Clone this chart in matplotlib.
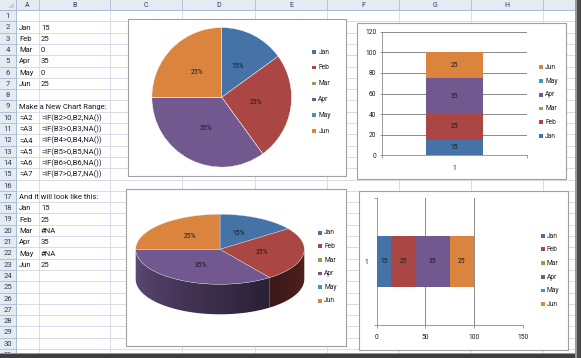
import matplotlib
matplotlib.use('Agg')
import matplotlib.pyplot as plt
import numpy as np
from matplotlib.patches import Rectangle, Polygon

# ---------------- data ----------------
months = ['Jan', 'Feb', 'Mar', 'Apr', 'May', 'Jun']
values = [15, 25, 0, 35, 0, 25]
value_texts = ['15', '25', '0', '35', '0', '25']
result_texts = ['15', '25', '#NA', '35', '#NA', '25']
range_refs = ['=A2', '=A3', '=A4', '=A5', '=A6', '=A7']
range_formulas = ['=IF(B2>0,B2,NA())', '=IF(B3>0,B3,NA())', '=IF(B4>0,B4,NA())',
                  '=IF(B5>0,B5,NA())', '=IF(B6>0,B6,NA())', '=IF(B7>0,B7,NA())']
note_range = 'Make a New Chart Range:'
note_result = 'And it will look like this:'
col_letters = ['A', 'B', 'C', 'D', 'E', 'F', 'G', 'H']
col_ticks = [0, 20, 40, 60, 80, 100, 120]
bar_ticks = [0, 50, 100, 150]
category = ['1']
colors = ['#4572A7', '#AA4643', '#89A54E', '#71588F', '#4198AF', '#DB843D']

# ---------------- layout (pixels) ----------------
W, H = 581, 358
plt.rcParams['font.family'] = ['Roboto', 'DejaVu Sans']
fig = plt.figure(figsize=(W / 100, H / 100), dpi=100)


def frac(x0, y0, x1, y1):
    return [x0 / W, 1 - y1 / H, (x1 - x0) / W, (y1 - y0) / H]


bg = fig.add_axes([0, 0, 1, 1])
bg.set_xlim(0, W)
bg.set_ylim(H, 0)
bg.axis('off')

col_edges = [16, 39, 110, 182, 255, 327, 399, 471, 543, 575]
hdr_h = 10
row_h = 11.3
n_rows = 31
grid_c = '#d0d7e5'
hdr_bg = '#e5ebf3'
hdr_line = '#a9bcd4'
txt_c = '#1a1a1a'
hdr_txt = '#2d3e55'

# headers
bg.add_patch(Rectangle((0, 0), W, hdr_h, facecolor=hdr_bg, edgecolor='none', zorder=1))
bg.add_patch(Rectangle((0, 0), col_edges[0], H, facecolor=hdr_bg, edgecolor='none', zorder=1))
bg.add_patch(Polygon([(13.5, 2.5), (13.5, 8), (8, 8)], closed=True,
                     facecolor='#c2ccda', edgecolor='none', zorder=2))
for x in col_edges:
    bg.plot([x, x], [hdr_h, H], color=grid_c, lw=0.6, zorder=1.5)
    bg.plot([x, x], [0, hdr_h], color=hdr_line, lw=0.6, zorder=1.5)
for i in range(n_rows + 1):
    y = hdr_h + i * row_h
    bg.plot([col_edges[0], W], [y, y], color=grid_c, lw=0.6, zorder=1.5)
    bg.plot([0, col_edges[0]], [y, y], color=hdr_line, lw=0.6, zorder=1.5)
bg.plot([0, W], [hdr_h, hdr_h], color=hdr_line, lw=0.7, zorder=1.6)
bg.plot([col_edges[0], col_edges[0]], [0, H], color=hdr_line, lw=0.7, zorder=1.6)

for i, letter in enumerate(col_letters):
    xc = (col_edges[i] + col_edges[i + 1]) / 2
    bg.text(xc, hdr_h / 2 + 0.5, letter, ha='center', va='center', fontsize=5, color=hdr_txt, zorder=3)
for r in range(1, n_rows + 1):
    yc = hdr_h + (r - 0.5) * row_h
    bg.text(8, yc + 0.4, str(r), ha='center', va='center', fontsize=5.5, color=hdr_txt, zorder=3)


def cell(row, col, text):
    x = 19 if col == 0 else 41
    yc = hdr_h + (row - 0.5) * row_h + 0.6
    bg.text(x, yc, text, ha='left', va='center', fontsize=5.5, color=txt_c, zorder=3)


for i, m in enumerate(months):
    cell(2 + i, 0, m)
    cell(2 + i, 1, value_texts[i])
cell(9, 0, note_range)
for i in range(6):
    cell(10 + i, 0, range_refs[i])
    cell(10 + i, 1, range_formulas[i])
cell(17, 0, note_result)
for i, m in enumerate(months):
    cell(18 + i, 0, m)
    cell(18 + i, 1, result_texts[i])

# screen shadow edges
bg.add_patch(Rectangle((0, 352.5), W, 1.5, facecolor='#9a9a9a', edgecolor='none', zorder=9))
bg.add_patch(Rectangle((0, 354), W, 4, facecolor='#3e3e3e', edgecolor='none', zorder=9))
bg.add_patch(Rectangle((575, 0), 1.5, H, facecolor='#9a9a9a', edgecolor='none', zorder=9))
bg.add_patch(Rectangle((576.5, 0), 4.5, H, facecolor='#4a4a4a', edgecolor='none', zorder=9))

# chart boxes
boxes = [(128, 19, 346, 175.5), (357.3, 22.7, 566, 179.3),
         (126, 189.3, 346, 345.5), (358.5, 190.7, 568, 349.5)]
for x0, y0, x1, y1 in boxes:
    bg.add_patch(Rectangle((x0 + 1, y0 + 1), x1 - x0, y1 - y0, facecolor='#dcdcdc',
                           edgecolor='none', zorder=4))
    bg.add_patch(Rectangle((x0, y0), x1 - x0, y1 - y0, facecolor='white',
                           edgecolor='#a0a0a0', lw=0.8, zorder=5))


def legend(x, y0, dy, labels, cols, size=3.8, fs=4.8):
    for i, (lab, c) in enumerate(zip(labels, cols)):
        y = y0 + i * dy
        bg.add_patch(Rectangle((x, y - size / 2), size, size, facecolor=c, edgecolor='none', zorder=7))
        bg.text(x + size + 2.3, y + 0.3, lab, ha='left', va='center', fontsize=fs, color=txt_c, zorder=7)


def pct(p):
    return f'{p:.0f}%' if p > 0.5 else ''


# ---- chart 1: 2D pie ----
cx, cy, r = 221.7, 97.3, 70.5
ax1 = fig.add_axes(frac(cx - r, cy - r, cx + r, cy + r))
ax1.pie(values, colors=colors, startangle=90, counterclock=False, autopct=pct,
        pctdistance=0.5, radius=1,
        wedgeprops=dict(edgecolor='white', linewidth=0.3),
        textprops=dict(fontsize=4.8, color=txt_c))
ax1.set_xlim(-1.01, 1.01)
ax1.set_ylim(-1.01, 1.01)
ax1.axis('off')
legend(312.3, 51.7, 15.9, months, colors)

# ---- chart 2: stacked column ----
ax2 = fig.add_axes(frac(382.3, 31.7, 526.7, 155.3))
ax2.set_facecolor('none')
bottom = 0
for m, v, c in zip(months, values, colors):
    bars = ax2.bar([1], [v], bottom=bottom, width=0.4, color=c, zorder=3)
    ax2.bar_label(bars, labels=[str(v) if v > 0 else ''], label_type='center',
                  fontsize=4.8, color=txt_c)
    bottom += v
ax2.set_xlim(0.5, 1.5)
ax2.set_ylim(0, 120)
ax2.set_yticks(col_ticks)
ax2.set_yticklabels([str(t) for t in col_ticks], fontsize=4.8, color=txt_c)
ax2.set_xticks([1])
ax2.set_xticklabels(category, fontsize=4.8, color=txt_c)
ax2.set_xticks([0.5, 1.5], minor=True)
ax2.tick_params(axis='x', which='major', length=0, pad=7)
ax2.tick_params(axis='x', which='minor', length=2.2, color='#8a8a8a', width=0.6)
ax2.tick_params(axis='y', length=1.6, color='#8a8a8a', width=0.6, pad=2.6)
for yv in col_ticks[1:]:
    ax2.axhline(yv, color='#8a8a8a', lw=0.7, zorder=1)
for s in ['top', 'right']:
    ax2.spines[s].set_visible(False)
for s in ['left', 'bottom']:
    ax2.spines[s].set_color('#8a8a8a')
    ax2.spines[s].set_linewidth(0.6)
legend(539, 67.3, 13.7, months[::-1], colors[::-1])

# ---- chart 3: 3D pie ----
pcx, pcy, rx, ry, depth = 220, 249.3, 84.3, 35, 30
total = float(sum(values))
angles = np.cumsum([0] + [v / total * 360 for v in values])


def ell(t):
    t = np.radians(t)
    return pcx + rx * np.sin(t), pcy - ry * np.cos(t)


def shade(t):
    t = np.asarray(t, dtype=float)
    return np.where(t >= 144, 0.36 + 0.5 * (t - 144) / 126, 0.36 + 0.12 * (144 - t) / 54)


for i, (a0, a1) in enumerate(zip(angles[:-1], angles[1:])):
    if a1 - a0 <= 0:
        continue
    s0, s1 = max(a0, 90), min(a1, 270)
    if s1 <= s0:
        continue
    ts = np.linspace(s0, s1, 120)
    xs, ys = ell(ts)
    pts = list(zip(xs, ys)) + list(zip(xs[::-1], ys[::-1] + depth))
    clip = Polygon(pts, closed=True, facecolor='none', edgecolor='none', zorder=6)
    bg.add_patch(clip)
    xmin, xmax = min(xs) - 0.5, max(xs) + 0.5
    ymin, ymax = min(ys) - 0.5, max(ys) + depth + 0.5
    gx = np.linspace(xmin, xmax, 200)
    tt = 180 - np.degrees(np.arcsin(np.clip((gx - pcx) / rx, -1, 1)))
    base = np.array(matplotlib.colors.to_rgb(colors[i]))
    img = np.clip(base[None, None, :] * shade(tt)[None, :, None], 0, 1)
    img = np.repeat(img, 2, axis=0)
    im = bg.imshow(img, extent=(xmin, xmax, ymax, ymin), aspect='auto',
                   interpolation='bilinear', zorder=6)
    im.set_clip_path(clip)
bg.set_xlim(0, W)
bg.set_ylim(H, 0)

for i, (a0, a1) in enumerate(zip(angles[:-1], angles[1:])):
    if a1 - a0 <= 0:
        continue
    ts = np.linspace(a0, a1, 80)
    xs, ys = ell(ts)
    pts = [(pcx, pcy)] + list(zip(xs, ys))
    bg.add_patch(Polygon(pts, closed=True, facecolor=colors[i], edgecolor='#e8e8e8',
                         lw=0.25, zorder=6.5))
    mid = (a0 + a1) / 2
    mx, my = pcx + 0.5 * rx * np.sin(np.radians(mid)), pcy - 0.52 * ry * np.cos(np.radians(mid))
    bg.text(mx, my, f'{values[i] / total * 100:.0f}%', ha='center', va='center',
            fontsize=4.8, color=txt_c, zorder=7)
legend(318, 232.7, 13.6, months, colors)

# ---- chart 4: stacked bar ----
ax4 = fig.add_axes(frac(376.7, 198.3, 522.7, 325))
ax4.set_facecolor('none')
left = 0
for m, v, c in zip(months, values, colors):
    bars = ax4.barh([1], [v], left=left, height=0.4, color=c, zorder=3)
    ax4.bar_label(bars, labels=[str(v) if v > 0 else ''], label_type='center',
                  fontsize=4.8, color=txt_c)
    left += v
ax4.set_xlim(0, 150)
ax4.set_ylim(0.5, 1.5)
ax4.set_xticks(bar_ticks)
ax4.set_xticklabels([str(t) for t in bar_ticks], fontsize=4.8, color=txt_c)
ax4.set_yticks([1])
ax4.set_yticklabels(category, fontsize=4.8, color=txt_c)
ax4.set_yticks([0.5, 1.5], minor=True)
ax4.tick_params(axis='y', which='major', length=0, pad=6)
ax4.tick_params(axis='y', which='minor', length=2.2, color='#8a8a8a', width=0.6)
ax4.tick_params(axis='x', length=2.2, color='#8a8a8a', width=0.6, pad=4.5)
for xv in bar_ticks[1:]:
    ax4.axvline(xv, color='#8a8a8a', lw=0.7, zorder=1)
for s in ['top', 'right']:
    ax4.spines[s].set_visible(False)
for s in ['left', 'bottom']:
    ax4.spines[s].set_color('#8a8a8a')
    ax4.spines[s].set_linewidth(0.6)
legend(540.7, 235.7, 13.7, months, colors)

fig.savefig('out.png', dpi=100)
